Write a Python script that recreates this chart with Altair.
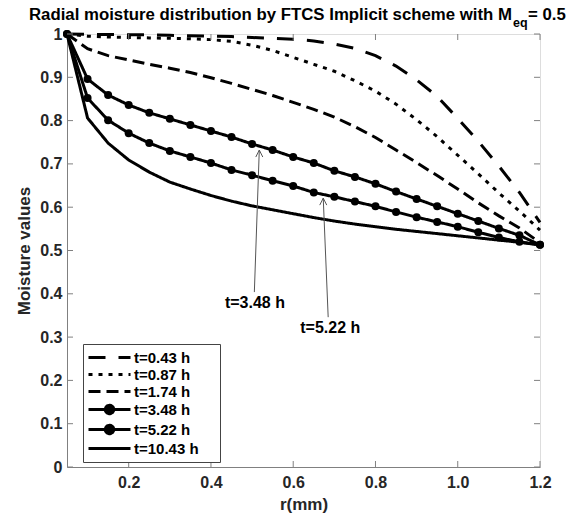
import altair as alt
import pandas as pd

FONT = "Liberation Sans"
AX = "#808080"
TXT = "#262626"

# ---- data ----
r_mm = [0.05, 0.10, 0.15, 0.20, 0.25, 0.30, 0.35, 0.40, 0.45, 0.50, 0.55, 0.60,
        0.65, 0.70, 0.75, 0.80, 0.85, 0.90, 0.95, 1.00, 1.05, 1.10, 1.15, 1.20]

series_labels = ["t=0.43 h", "t=0.87 h", "t=1.74 h", "t=3.48 h", "t=5.22 h", "t=10.43 h"]

m_043 = [1.000, 0.999, 0.999, 0.998, 0.998, 0.997, 0.996, 0.995, 0.994, 0.992, 0.990, 0.988,
         0.984, 0.977, 0.967, 0.950, 0.926, 0.894, 0.856, 0.805, 0.752, 0.695, 0.634, 0.565]
m_087 = [1.000, 0.995, 0.993, 0.992, 0.991, 0.990, 0.989, 0.987, 0.983, 0.974, 0.962, 0.946,
         0.930, 0.914, 0.892, 0.868, 0.838, 0.802, 0.763, 0.720, 0.677, 0.633, 0.591, 0.547]
m_174 = [1.000, 0.966, 0.950, 0.940, 0.930, 0.921, 0.911, 0.899, 0.886, 0.872, 0.858, 0.842,
         0.826, 0.808, 0.786, 0.761, 0.732, 0.703, 0.673, 0.642, 0.610, 0.580, 0.552, 0.518]
m_348 = [1.000, 0.896, 0.859, 0.836, 0.818, 0.804, 0.790, 0.776, 0.762, 0.746, 0.732, 0.716,
         0.702, 0.684, 0.670, 0.654, 0.636, 0.619, 0.602, 0.585, 0.568, 0.551, 0.535, 0.513]
m_522 = [1.000, 0.852, 0.801, 0.771, 0.748, 0.730, 0.716, 0.702, 0.686, 0.674, 0.661, 0.649,
         0.634, 0.624, 0.613, 0.602, 0.589, 0.577, 0.566, 0.555, 0.542, 0.530, 0.520, 0.513]
m_1043 = [1.000, 0.806, 0.748, 0.709, 0.681, 0.658, 0.642, 0.627, 0.614, 0.603, 0.594, 0.585,
          0.576, 0.568, 0.561, 0.555, 0.549, 0.544, 0.539, 0.534, 0.529, 0.524, 0.519, 0.513]

marker_series = ["t=3.48 h", "t=5.22 h"]

ann_text = ["t=3.48 h", "t=5.22 h"]
ann_r = [0.507, 0.690]
ann_m = [0.379, 0.321]
arrow_r0 = [0.5055, 0.685]
arrow_m0 = [0.404, 0.346]
arrow_r1 = [0.5175, 0.673]
arrow_m1 = [0.732, 0.621]

x_ticks = [0.2, 0.4, 0.6, 0.8, 1.0, 1.2]
y_ticks = [0.0, 0.1, 0.2, 0.3, 0.4, 0.5, 0.6, 0.7, 0.8, 0.9, 1.0]

title_main = "Radial moisture distribution by FTCS Implicit scheme with M"
title_sub = "eq"
title_end = "= 0.5"

# ---- build tables ----
all_series = [m_043, m_087, m_174, m_348, m_522, m_1043]
rows = []
for lab, vals in zip(series_labels, all_series):
    for r, m in zip(r_mm, vals):
        rows.append({"r": r, "m": m, "series": lab})
df = pd.DataFrame(rows)
ann_df = pd.DataFrame({"text": ann_text, "r": ann_r, "m": ann_m})
arr_df = pd.DataFrame({"r0": arrow_r0, "m0": arrow_m0, "r1": arrow_r1, "m1": arrow_m1})
xt_df = pd.DataFrame({"v": x_ticks})
yt_df = pd.DataFrame({"v": y_ticks})
one = pd.DataFrame({"a": [0]})

W, H = 473, 433

xs = alt.Scale(domain=[0.05, 1.2], nice=False, zero=False)
ys = alt.Scale(domain=[0, 1], nice=False, zero=False)

dashes = [[17, 13], [4, 6], [12, 6], [1, 0], [1, 0], [1, 0]]
dash_scale = alt.Scale(domain=series_labels, range=dashes)
stroke_scale = alt.Scale(domain=series_labels, range=["black"] * len(series_labels))

line_path = "M-3,0L3,0"
marker_path = "M-3,0L3,0M-0.6,0A0.6,0.6,0,1,0,0.6,0A0.6,0.6,0,1,0,-0.6,0Z"
shape_scale = alt.Scale(domain=series_labels,
                        range=[line_path, line_path, line_path, marker_path, marker_path, line_path])

x_axis = alt.Axis(values=x_ticks, format=".1f", ticks=False, grid=False,
                  labelFont=FONT, labelFontSize=16, labelFontWeight="bold", labelColor=TXT,
                  labelPadding=7, labelFlush=False, domainColor=AX,
                  title="r(mm)", titleFont=FONT, titleFontSize=17, titleFontWeight="bold",
                  titleColor=TXT, titlePadding=6)
y_axis = alt.Axis(values=y_ticks, format=".1~f", ticks=False, grid=False,
                  labelFont=FONT, labelFontSize=16, labelFontWeight="bold", labelColor=TXT,
                  labelPadding=5, labelFlush=False, domainColor=AX,
                  title="Moisture values", titleFont=FONT, titleFontSize=17, titleFontWeight="bold",
                  titleColor=TXT, titlePadding=6)

# one line layer per series (dash pattern as a mark style)
line_layers = []
for i, (lab, dash) in enumerate(zip(series_labels, dashes)):
    enc_x = alt.X("r:Q", scale=xs, axis=x_axis) if i == 0 else alt.X("r:Q", scale=xs)
    enc_y = alt.Y("m:Q", scale=ys, axis=y_axis) if i == 0 else alt.Y("m:Q", scale=ys)
    line_layers.append(
        alt.Chart(df).transform_filter(alt.datum.series == lab)
        .mark_line(strokeWidth=3, color="black", strokeCap="butt", strokeDash=dash)
        .encode(x=enc_x, y=enc_y)
    )

markers = alt.Chart(df).transform_filter(
    alt.FieldOneOfPredicate(field="series", oneOf=marker_series)
).mark_point(filled=True, size=64, color="black", opacity=1).encode(
    x=alt.X("r:Q", scale=xs),
    y=alt.Y("m:Q", scale=ys),
)

legend = alt.Legend(
    title=".", titleOrient="right", titleFontSize=3, titleOpacity=0, titlePadding=15,
    orient="none", legendX=16, legendY=310, direction="vertical",
    labelFont=FONT, labelFontSize=15, labelFontWeight="bold", labelColor="black",
    symbolSize=196, symbolStrokeWidth=3, symbolFillColor="black",
    symbolStrokeColor="black", symbolOpacity=1,
    symbolOffset=13, labelOffset=16,
    strokeColor="#444444", fillColor="white", padding=5, rowPadding=-1,
)

leg_layer = alt.Chart(df).transform_filter("false").mark_point(
    filled=False, fill="black", strokeWidth=3, size=196
).encode(
    x=alt.X("r:Q", scale=xs),
    y=alt.Y("m:Q", scale=ys),
    stroke=alt.Stroke("series:N", scale=stroke_scale, legend=legend),
    shape=alt.Shape("series:N", scale=shape_scale, legend=legend),
    strokeDash=alt.StrokeDash("series:N", scale=dash_scale, legend=legend),
)

arrows = alt.Chart(arr_df).mark_rule(color="#555555", strokeWidth=1).encode(
    x=alt.X("r0:Q", scale=xs), y=alt.Y("m0:Q", scale=ys),
    x2="r1:Q", y2="m1:Q",
)
heads = alt.Chart(arr_df).mark_point(
    shape="M-0.5,1L0,0L0.5,1", filled=False, stroke="#555555", strokeWidth=1, size=196, opacity=1
).encode(
    x=alt.X("r1:Q", scale=xs), y=alt.Y("m1:Q", scale=ys),
)
ann = alt.Chart(ann_df).mark_text(
    font=FONT, fontSize=16, fontWeight="bold", color="black", baseline="middle", align="center"
).encode(
    x=alt.X("r:Q", scale=xs), y=alt.Y("m:Q", scale=ys), text="text:N",
)

# inward ticks (MATLAB style) on all four sides
tb = alt.Chart(xt_df).mark_rule(color=AX, strokeWidth=1).encode(
    x=alt.X("v:Q", scale=xs), y=alt.value(H), y2=alt.value(H - 6))
tt = alt.Chart(xt_df).mark_rule(color=AX, strokeWidth=1).encode(
    x=alt.X("v:Q", scale=xs), y=alt.value(0), y2=alt.value(6))
tl = alt.Chart(yt_df).mark_rule(color=AX, strokeWidth=1).encode(
    y=alt.Y("v:Q", scale=ys), x=alt.value(0), x2=alt.value(6))
tr = alt.Chart(yt_df).mark_rule(color=AX, strokeWidth=1).encode(
    y=alt.Y("v:Q", scale=ys), x=alt.value(W), x2=alt.value(W - 6))

t1 = alt.Chart(one).mark_text(text=title_main, font=FONT, fontSize=16.8, fontWeight="bold",
                              color="black", align="right", baseline="alphabetic").encode(
    x=alt.value(445), y=alt.value(-14))
t2 = alt.Chart(one).mark_text(text=title_sub, font=FONT, fontSize=12.5, fontWeight="bold",
                              color="black", align="left", baseline="alphabetic").encode(
    x=alt.value(446), y=alt.value(-7))
t3 = alt.Chart(one).mark_text(text=title_end, font=FONT, fontSize=16.8, fontWeight="bold",
                              color="black", align="left", baseline="alphabetic").encode(
    x=alt.value(461), y=alt.value(-14))

chart = alt.layer(
    *line_layers, markers, leg_layer, arrows, heads, ann, tb, tt, tl, tr, t1, t2, t3
).properties(
    width=W, height=H,
    padding={"left": 67, "top": 34, "right": 33, "bottom": 50},
    autosize=alt.AutoSizeParams(type="none"),
).configure_view(stroke=AX, strokeWidth=1).configure(background="white")

chart.save("out.html", embed_options={"renderer": "svg", "actions": False})
